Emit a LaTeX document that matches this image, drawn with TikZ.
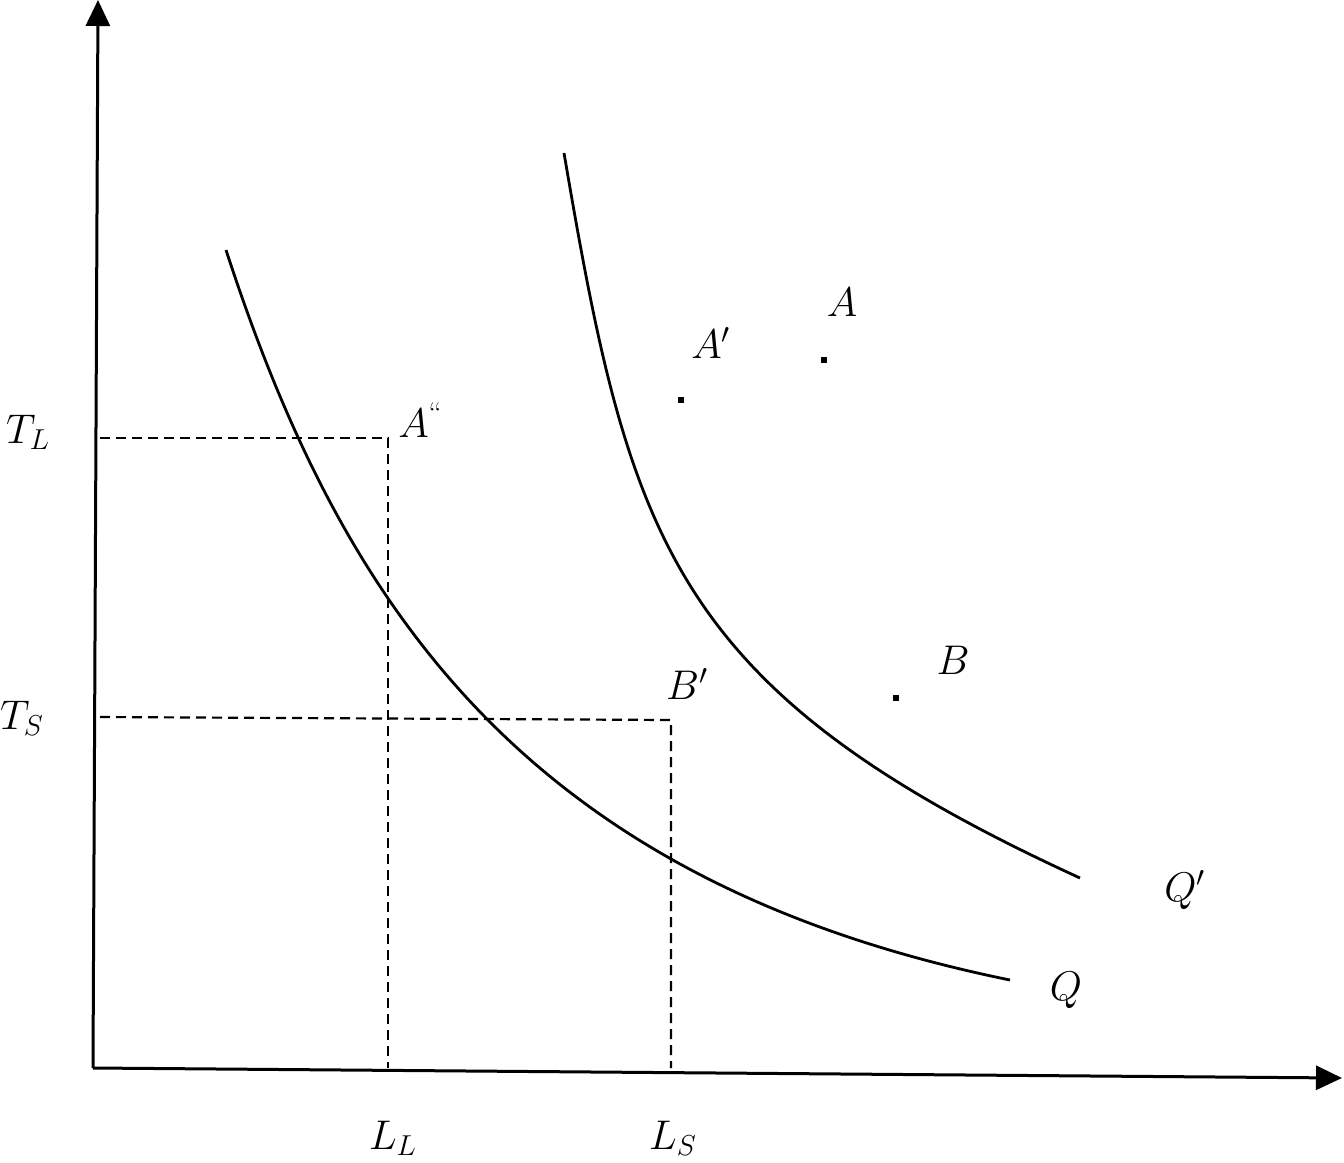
\documentclass[tikz,border=0pt]{standalone}
\usetikzlibrary{arrows.meta}
\begin{document}
\begin{tikzpicture}[x=0.5pt,y=-0.5pt,
  axis/.style={line width=1.5pt,-{Triangle[length=13pt,width=12pt]}},
  guide/.style={line width=1.1pt,dash pattern=on 5pt off 3pt},
  curve/.style={line width=1.4pt},
  lbl/.style={inner sep=0pt,font=\fontsize{22}{26}\selectfont},
  dot/.style={rectangle,fill,inner sep=0pt,minimum size=3pt}]
\useasboundingbox (0,0) rectangle (1344,1162);
% axes
\coordinate (O) at (93,1068);
\coordinate (ytip) at (98,0);
\coordinate (xtip) at (1342,1078);
\draw[axis] (O) -- (ytip);
\draw[axis] (O) -- (xtip);
% guide lines
\coordinate (yTL) at (100,438);
\coordinate (pA2) at (388,438);
\coordinate (xLL) at (388,1068);
\coordinate (yTS) at (100,717);
\coordinate (pB1) at (671,720);
\coordinate (xLS) at (671,1068);
\draw[guide] (yTL) -- (pA2) -- (xLL);
\draw[guide] (yTS) -- (pB1) -- (xLS);
% curves
\coordinate (q0) at (226,250);
\coordinate (q1) at (1010,980);
\coordinate (p0) at (564,153);
\coordinate (p1) at (1080,878);
\draw[curve] (q0) .. controls (340,600) and (520,880) .. (q1);
\draw[curve] (p0) .. controls (630,540) and (670,690) .. (p1);
% dots
\node[dot] (dA) at (824,360) {};
\node[dot] (dA1) at (681,400) {};
\node[dot] (dB) at (896,698) {};
% labels
\node[lbl] (lA) at (842,302) {$A$};
\node[lbl] (lA1) at (711,343) {$A'$};
\node[lbl] (lA2) at (420,420) {$A$\raisebox{0.3em}{\fontsize{15}{15}\selectfont ``}};
\node[lbl] (lB) at (953,660) {$B$};
\node[lbl] (lB1) at (687,684) {$B'$};
\node[lbl] (lQ) at (1066,990) {$Q$};
\node[lbl] (lQ1) at (1185,890) {$Q'$};
\node[lbl] (lTL) at (28,432) {$T_L$};
\node[lbl] (lTS) at (22,718) {$T_S$};
\node[lbl] (lLL) at (393,1138) {$L_L$};
\node[lbl] (lLS) at (673,1138) {$L_S$};
\end{tikzpicture}
\end{document}
